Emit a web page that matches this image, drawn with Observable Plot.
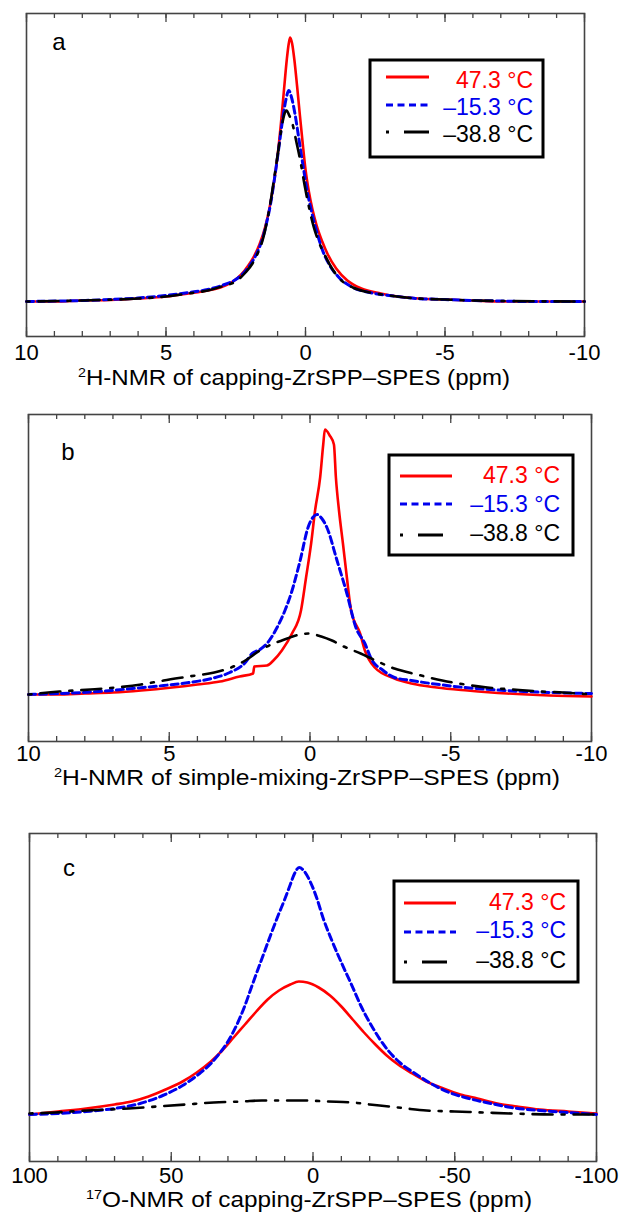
<!DOCTYPE html>
<html>
<head>
<meta charset="utf-8">
<script src="https://cdn.jsdelivr.net/npm/d3@7"></script>
<script src="https://cdn.jsdelivr.net/npm/@observablehq/plot@0.6"></script>
<style>
html,body{margin:0;padding:0;background:#fff;}
#wrap{position:relative;width:624px;height:1215px;overflow:hidden;background:#fff;}
#wrap svg{position:absolute;left:0;overflow:visible;}
</style>
</head>
<body>
<div id="wrap"></div>
<script>
// ---------- data ----------
const temperatures = ["47.3 °C", "–15.3 °C", "–38.8 °C"];
const seriesColors = ["#ff0000", "#0000ee", "#000000"];

const ppmTicksH = [10, 5, 0, -5, -10];
const ppmTicksO = [100, 50, 0, -50, -100];
const minorTicksH = [10,9,8,7,6,5,4,3,2,1,0,-1,-2,-3,-4,-5,-6,-7,-8,-9,-10];
const minorTicksO = [100,90,80,70,60,50,40,30,20,10,0,-10,-20,-30,-40,-50,-60,-70,-80,-90,-100];

// panel a : 2H-NMR capping  [ppm, intensity a.u.]
const aRed = [[10,0],[9,0],[8,1],[7,1.5],[6,3],[5,5],[4.2,8],[3.5,11],[3.05,14],[2.6,20],[2.3,27],[2.05,36],[1.85,45],[1.65,57],[1.45,74],[1.3,92],[1.15,116],[1.0,146],[0.88,178],[0.77,212],[0.67,242],[0.6,258],[0.55,264],[0.48,258],[0.4,242],[0.3,215],[0.2,186],[0.1,158],[0,132],[-0.12,110],[-0.25,92],[-0.4,76],[-0.6,60],[-0.8,47],[-1.1,33],[-1.5,21],[-2,13],[-2.7,8],[-3.3,5],[-4.1,3],[-5,2],[-6,1],[-7,0],[-8.5,0],[-10,0]];
const aBlue = [[10,0],[8,1],[6,3.5],[5,6],[4.2,9],[3.5,12],[3,16],[2.5,22],[2.2,29],[1.95,38],[1.75,48],[1.55,62],[1.4,78],[1.25,98],[1.1,125],[0.95,155],[0.82,182],[0.7,202],[0.6,211],[0.5,204],[0.38,188],[0.25,165],[0.1,138],[-0.05,112],[-0.2,92],[-0.4,70],[-0.6,52],[-0.85,37],[-1.2,24],[-1.7,14],[-2.3,9],[-3,6],[-4,3],[-5,2],[-6,1],[-7,0.5],[-8,0],[-10,0]];
const aBlack = [[10,0],[8,1],[6,3],[5,5],[4.2,8],[3.5,11],[3,15],[2.45,21],[2.15,29],[1.9,38],[1.7,49],[1.52,63],[1.38,80],[1.25,100],[1.12,124],[0.98,150],[0.85,175],[0.75,188],[0.68,191],[0.58,186],[0.47,178],[0.33,160],[0.18,140],[0.03,116],[-0.12,95],[-0.3,74],[-0.5,58],[-0.7,46],[-0.95,33],[-1.25,22],[-1.7,14],[-2.3,9],[-3,6],[-4,3],[-5,2],[-6,1],[-7,0.5],[-10,0]];

// panel b : 2H-NMR simple-mixing
const bRed = [[10,0],[9,0],[8,1],[7,2],[6,4],[4.9,7],[4,10],[3.2,13],[2.5,18],[2.02,21],[1.98,28],[1.53,29],[1.3,34],[1.0,44],[0.64,61],[0.32,84],[0.14,117],[-0.04,151],[-0.18,184],[-0.36,217],[-0.47,250],[-0.53,265],[-0.7,259],[-0.85,250],[-0.92,217],[-1.03,184],[-1.17,151],[-1.31,117],[-1.46,84],[-1.78,61],[-1.95,44],[-2.3,27],[-3,16],[-3.6,11],[-4.5,7],[-5.6,4],[-7,1],[-8.5,-1],[-10,-2]];
const bBlue = [[10,0],[8.9,1],[7.5,3],[6.3,6],[5.2,9],[4.3,12],[3.5,16],[2.85,22],[2.3,32],[2.06,41],[1.78,45],[1.5,52],[1.17,67],[0.89,84],[0.67,101],[0.35,134],[0.07,167],[-0.1,177],[-0.25,180],[-0.42,176],[-0.6,167],[-0.96,134],[-1.31,101],[-1.63,67],[-1.95,51],[-2.17,36],[-2.6,24],[-3,17],[-3.6,14],[-4.3,11],[-5.5,7],[-6.9,4],[-8.5,2],[-10,1]];
const bBlack = [[10,0],[8.9,3],[7.8,5],[6.9,7],[6,10],[5.2,14],[4.3,18],[3.4,22],[2.8,27],[2.3,34],[1.78,44],[1.3,51],[1.0,54],[0.5,59],[0.04,61],[-0.4,58],[-0.78,54],[-1.2,48],[-1.8,41],[-2.4,33],[-3,26],[-3.8,20],[-4.7,14],[-5.5,10],[-6.3,7],[-7.2,5],[-8.2,3],[-9,2],[-10,0]];

// panel c : 17O-NMR capping
const cRed = [[100,-1],[90,2],[80,5],[70,9],[64,12],[58,17],[52,24],[46,32],[41,41],[36,52],[32,63],[28,76],[24,89],[20,102],[16,114],[12,123],[8,129],[5,132],[2,131],[-2,126],[-6,118],[-10,107],[-14,94],[-18,81],[-22,69],[-26,58],[-30,49],[-35,40],[-40,32],[-46,25],[-52,19],[-58,15],[-65,10],[-72,7],[-80,4],[-90,2],[-100,0]];
const cBlue = [[100,-1],[90,0],[80,2],[70,5],[61,10],[53,18],[46,28],[40,40],[36,50],[33,60],[30,72],[27,88],[24,108],[21.5,128],[18,155],[15,178],[12.3,198],[10,214],[8,229],[6.5,240],[4.9,246],[3,242],[1,232],[-1.5,214],[-3.5,196],[-6.5,174],[-10,151],[-13.4,130],[-17,107],[-21,86],[-26.5,63],[-31,50],[-36,40],[-41.6,30],[-48,21],[-55,15],[-62.8,10],[-70,6],[-80,3],[-90,1],[-100,-1]];
const cBlack = [[100,0],[91,1],[80,3],[65,5],[55,7],[45,9],[35,11],[25,12],[18,13],[10,13],[3,13],[-5,12],[-14,11],[-20,9],[-27,7],[-33,5],[-40,3],[-50,2],[-60,1],[-70,0],[-86,-1],[-100,-1]];

// ---------- styles ----------
const FONT = "'Liberation Sans', Arial, Helvetica, sans-serif";
const lineStyles = [
  {stroke: seriesColors[0], strokeWidth: 2.6},
  {stroke: seriesColors[1], strokeWidth: 3, strokeDasharray: "7,4"},
  {stroke: seriesColors[2], strokeWidth: 2.6, strokeDasharray: "3,9,20,9"}
];
const legendDash = [null, "7,4.5", "3,15,25,100"];

const panels = [
  {top: 0, height: 400, mt: 13, mb: 64, ml: 26, mr: 40, xdom: [10,-10], ydom: [-35, 288],
   minor: minorTicksH, major: ppmTicksH, tickPad: 8, series: [aRed, aBlue, aBlack],
   letter: "a", letterPos: [59, 50],
   label: ["2", "H-NMR of capping-ZrSPP–SPES (ppm)"], labelPos: [294, 384.5], labelLen: 432,
   legend: {box: [370, 60, 543, 157], lx: [386, 429], ly: [77, 105, 132], ty: [88, 115, 142], tx: 533}},
  {top: 400, height: 400, mt: 14, mb: 59, ml: 28, mr: 33, xdom: [10,-10], ydom: [-47, 280],
   minor: minorTicksH, major: ppmTicksH, tickPad: 4, series: [bRed, bBlue, bBlack],
   letter: "b", letterPos: [68, 60],
   label: ["2", "H-NMR of simple-mixing-ZrSPP–SPES (ppm)"], labelPos: [307, 385.3], labelLen: 506,
   legend: {box: [389, 55, 573, 155], lx: [400, 452], ly: [76, 104, 135], ty: [83, 112, 141], tx: 560}},
  {top: 800, height: 415, mt: 33, mb: 54, ml: 29, mr: 28, xdom: [100,-100], ydom: [-48, 280],
   minor: minorTicksO, major: ppmTicksO, tickPad: 6, series: [cRed, cBlue, cBlack],
   letter: "c", letterPos: [69, 76],
   label: ["17", "O-NMR of capping-ZrSPP–SPES (ppm)"], labelPos: [309, 407.3], labelLen: 446,
   legend: {box: [394, 81, 578, 182], lx: [404, 456], ly: [103, 132, 162], ty: [110, 138, 168], tx: 566}}
];

const wrap = document.getElementById("wrap");

for (const p of panels) {
  const fh = p.height - p.mt - p.mb;
  const tickStyle = {stroke: "#444", strokeWidth: 1.3};
  const marks = [
    Plot.frame({stroke: "#444", strokeWidth: 1.6}),
    Plot.tickX(p.minor, {x: d => d, insetTop: fh - 5, ...tickStyle}),
    Plot.tickX(p.minor, {x: d => d, insetBottom: fh - 5, ...tickStyle}),
    Plot.tickX(p.major, {x: d => d, insetTop: fh - 9, ...tickStyle}),
    Plot.tickX(p.major, {x: d => d, insetBottom: fh - 9, ...tickStyle}),
    Plot.axisX({ticks: p.major, anchor: "bottom", tickSize: 0, tickPadding: p.tickPad,
                fontSize: 22, label: null, tickFormat: d => String(d), fill: "#000"}),
    ...p.series.map((s, i) => Plot.line(s, {x: d => d[0], y: d => d[1], curve: "monotone-x", ...lineStyles[i]}))
  ];
  const svg = Plot.plot({
    width: 624, height: p.height,
    marginTop: p.mt, marginBottom: p.mb, marginLeft: p.ml, marginRight: p.mr,
    x: {domain: p.xdom},
    y: {domain: p.ydom, axis: null},
    style: {fontFamily: FONT, color: "#000", background: "transparent", overflow: "visible"},
    marks
  });
  svg.style.top = p.top + "px";
  wrap.appendChild(svg);

  const s = d3.select(svg);
  // panel letter
  s.append("text").attr("x", p.letterPos[0]).attr("y", p.letterPos[1])
    .attr("text-anchor", "middle").attr("font-size", 24).attr("font-family", FONT)
    .attr("fill", "#000").text(p.letter);

  // axis label with superscript
  const t = s.append("text").attr("x", p.labelPos[0]).attr("y", p.labelPos[1])
    .attr("text-anchor", "middle").attr("font-size", 22).attr("font-family", FONT).attr("fill", "#000")
    .attr("textLength", p.labelLen).attr("lengthAdjust", "spacingAndGlyphs");
  t.append("tspan").attr("font-size", 13).attr("dy", -8).text(p.label[0]);
  t.append("tspan").attr("dy", 8).text(p.label[1]);

  // legend
  const L = p.legend;
  const g = s.append("g");
  g.append("rect").attr("x", L.box[0]).attr("y", L.box[1])
    .attr("width", L.box[2] - L.box[0]).attr("height", L.box[3] - L.box[1])
    .attr("fill", "#fff").attr("stroke", "#000").attr("stroke-width", 3);
  temperatures.forEach((name, i) => {
    const ln = g.append("line").attr("x1", L.lx[0]).attr("x2", L.lx[1])
      .attr("y1", L.ly[i]).attr("y2", L.ly[i])
      .attr("stroke", seriesColors[i]).attr("stroke-width", 3);
    if (legendDash[i]) ln.attr("stroke-dasharray", legendDash[i]);
    g.append("text").attr("x", L.tx).attr("y", L.ty[i]).attr("text-anchor", "end")
      .attr("font-size", 23).attr("font-family", FONT).attr("fill", seriesColors[i]).text(name);
  });
}
</script>
</body>
</html>
